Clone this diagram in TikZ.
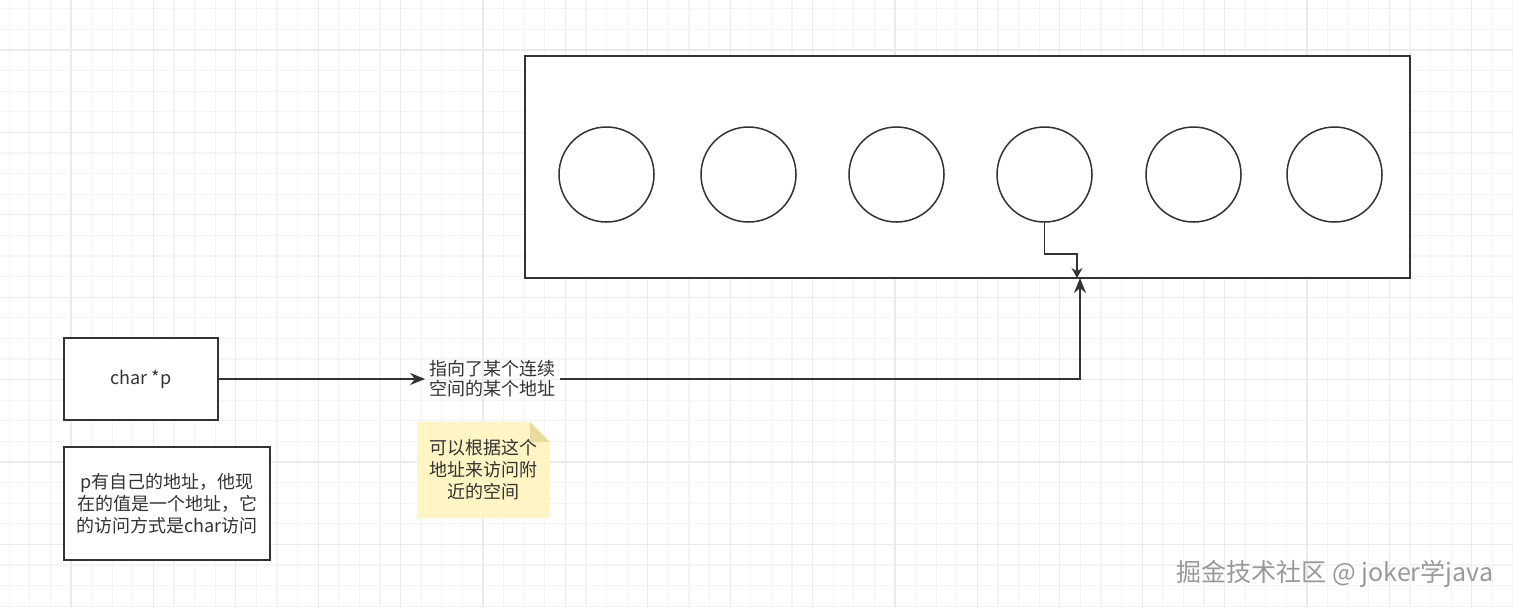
\documentclass[tikz,border=0pt]{standalone}
\usepackage{fontspec}
\setmainfont{Noto Sans CJK SC}
\usetikzlibrary{arrows.meta}
\definecolor{gridminor}{HTML}{F4F4F4}
\definecolor{gridmajor}{HTML}{EBEBEB}
\definecolor{inkgray}{HTML}{333333}
\definecolor{notefill}{HTML}{FFF4C3}
\definecolor{notefold}{HTML}{E9DB9E}
\definecolor{markgray}{HTML}{999999}

\begin{document}
\begin{tikzpicture}[x=0.5pt, y=-0.5pt,
	font=\fontsize{9}{11}\selectfont,
	box/.style={draw=inkgray, line width=1pt, fill=white, text=inkgray, align=center, inner sep=0pt},
	slot/.style={circle, draw=inkgray, line width=0.75pt, fill=white, minimum size=47.5pt, inner sep=0pt},
	link/.style={draw=inkgray, line width=0.9pt, -{Stealth[length=7.5pt,width=6pt]}}]

	\useasboundingbox (0,0) rectangle (1513,607);
	\fill[white] (0,0) rectangle (1513,607);

	% grid
	\foreach \i in {0,...,73}
		\draw[gridminor, line width=0.6pt] ({9.2+20.6*\i},0) -- ({9.2+20.6*\i},607);
	\foreach \j in {0,...,29}
		\draw[gridminor, line width=0.6pt] (0,{8.8+20.6*\j}) -- (1513,{8.8+20.6*\j});
	\foreach \i in {0,...,17}
		\draw[gridmajor, line width=0.6pt] ({71+82.4*\i},0) -- ({71+82.4*\i},607);
	\foreach \j in {0,...,6}
		\draw[gridmajor, line width=0.6pt] (0,{50+82.4*\j}) -- (1513,{50+82.4*\j});

	% memory block
	\node[box, minimum width=442.5pt, minimum height=111pt] (mem) at (967.5,167) {};
	\foreach \n/\x in {1/606.5, 2/748.5, 3/896.5, 4/1044.5, 5/1193.5, 6/1334.5}
		\node[slot] (c\n) at (\x,174.5) {};

	% pointer
	\node[box, minimum width=77pt, minimum height=41pt] (ptr) at (141,379) {char *p};
	\node[box, minimum width=103pt, minimum height=56.5pt] (desc) at (167,503.5)
		{p有自己的地址，他现\\在的值是一个地址，它\\的访问方式是char访问};

	\node[text=inkgray, align=center, inner sep=2pt, font=\fontsize{9}{10}\selectfont] (label) at (492.5,379)
		{指向了某个连续\\空间的某个地址};

	\node[text=inkgray, align=center, minimum width=66.5pt, minimum height=48pt, inner sep=0pt,
		path picture={
			\fill[notefill] (path picture bounding box.south west) -- (path picture bounding box.north west)
				-- ([xshift=-10pt]path picture bounding box.north east) -- ([yshift=-10pt]path picture bounding box.north east)
				-- (path picture bounding box.south east) -- cycle;
			\fill[notefold] ([xshift=-10pt]path picture bounding box.north east)
				-- ([xshift=-10pt,yshift=-10pt]path picture bounding box.north east)
				-- ([yshift=-10pt]path picture bounding box.north east) -- cycle;
		}] (note) at (483.5,470) {可以根据这个\\地址来访问附\\近的空间};

	% connectors
	\coordinate (drop) at (1077,278);
	\coordinate (rise) at (1080,278);
	\draw[link] (ptr.east) -- (label.west);
	\draw[link] (label.east) -| (rise);
	\draw[link, -{Stealth[length=5pt,width=5.5pt]}] (c4.south) -- ++(0,31) -| (drop);

	\node[text=markgray, font=\fontsize{12.5}{14}\selectfont] (mark) at (1335,574) {掘金技术社区 @ joker学java};

\end{tikzpicture}
\end{document}
